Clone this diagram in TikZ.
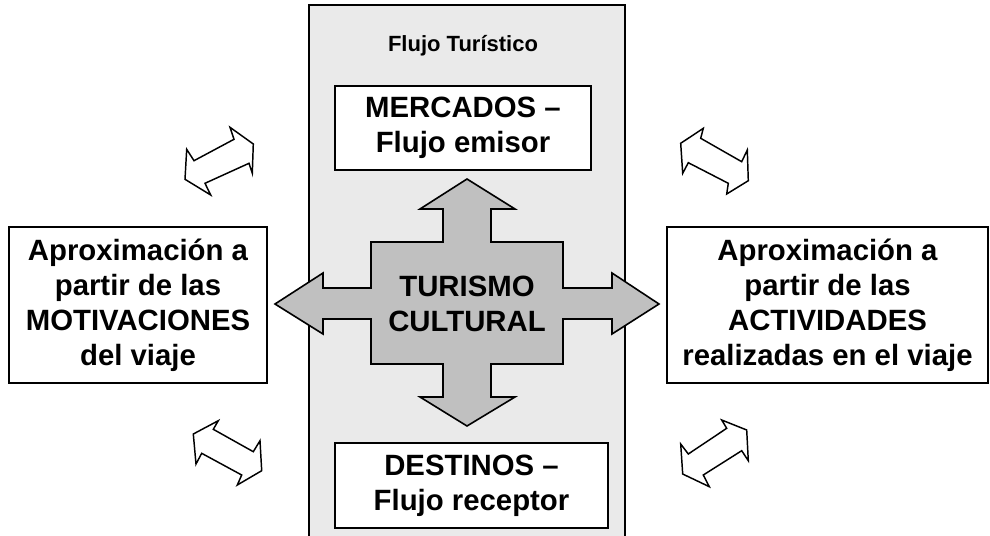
\documentclass[tikz,border=0pt]{standalone}
\usepackage{fontspec}
\setmainfont{Liberation Sans}
\definecolor{panelgray}{RGB}{234,234,234}
\definecolor{crossgray}{RGB}{192,192,192}
\tikzset{
  bigtext/.style={font=\fontsize{22}{26.3}\selectfont\bfseries, align=center},
  wbox/.style={draw=black, line width=1.2pt, fill=white, rectangle, inner sep=0pt, bigtext},
  smallarrow/.style={draw=black, fill=white, line width=1.1pt, line join=miter},
}
\begin{document}
\begin{tikzpicture}[x=0.75pt, y=-0.75pt]
\useasboundingbox (0,0) rectangle (990,536);
% central panel
\draw[fill=panelgray, line width=1pt] (309,540) -- (309,5) -- (625,5) -- (625,540);
\node[font=\fontsize{16.5}{20}\selectfont\bfseries] (title) at (463,46) {Flujo Turístico};
% top and bottom boxes
\node[wbox, minimum width=192pt, minimum height=63pt] (mercados) at (463,128) {MERCADOS –\\Flujo emisor};
\node[wbox, minimum width=204.75pt, minimum height=63.75pt] (destinos) at (471.5,485.5) {DESTINOS –\\Flujo receptor};
% cross
\draw[fill=crossgray, line width=1.2pt, line join=miter]
  (467,179) -- (515,209) -- (491,209) -- (491,242) -- (563,242) -- (563,288) -- (612,288) -- (612,273) -- (659,304)
  -- (612,334) -- (612,319) -- (563,319) -- (563,364) -- (491,364) -- (491,397) -- (515,397) -- (467,426)
  -- (420,397) -- (443,397) -- (443,364) -- (371,364) -- (371,319) -- (323,319) -- (323,334) -- (275,304)
  -- (323,273) -- (323,288) -- (371,288) -- (371,242) -- (443,242) -- (443,209) -- (420,209) -- cycle;
\node[bigtext, inner sep=0pt] (turismo) at (467,304) {TURISMO\\CULTURAL};
% side boxes
\node[wbox, minimum width=193.5pt, minimum height=117pt] (motiv) at (138,305) {Aproximación a\\partir de las\\MOTIVACIONES\\del viaje};
\node[wbox, minimum width=240.75pt, minimum height=117pt] (activ) at (827.5,305) {Aproximación a\\partir de las\\ACTIVIDADES\\realizadas en el viaje};
% small double arrows
\draw[smallarrow] (230,127.3) -- (253.3,144) -- (252.3,173.3) -- (249,163.3) -- (205,183.3) -- (210.7,195)
  -- (185,179.3) -- (186.7,149.3) -- (194,160.7) -- (234,139.3) -- cycle;
\draw[smallarrow] (703.3,128.3) -- (700.7,138.3) -- (741.7,161.7) -- (747.3,150) -- (748.3,180.7) -- (726.7,194)
  -- (728.3,183.3) -- (688.3,162.7) -- (682.7,173.3) -- (680.7,143.3) -- cycle;
\draw[smallarrow] (218.3,420.7) -- (213.3,429.3) -- (253.3,451.7) -- (260,440.7) -- (261.7,470.7) -- (237.3,485)
  -- (241.7,475) -- (201.7,453.3) -- (196,464) -- (193.3,434) -- cycle;
\draw[smallarrow] (721.7,420) -- (746.7,430) -- (748.3,460.7) -- (741.7,450.7) -- (703.3,475) -- (709.3,486.7)
  -- (682.7,474) -- (680.7,444) -- (688.3,454) -- (726.7,428.3) -- cycle;
\end{tikzpicture}
\end{document}
